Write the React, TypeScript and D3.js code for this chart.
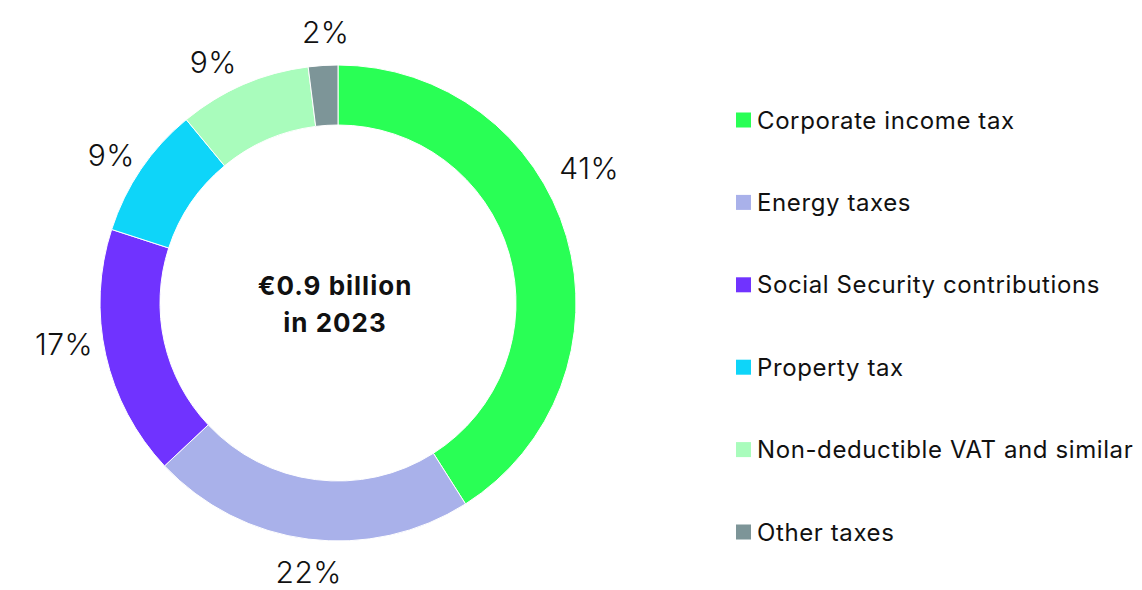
import React from "react";
import * as d3 from "d3";

const categories = [
  "Corporate income tax",
  "Energy taxes",
  "Social Security contributions",
  "Property tax",
  "Non-deductible VAT and similar",
  "Other taxes",
];
const values = [41, 22, 17, 9, 9, 2];
const colors = ["#29FF55", "#A9B1EA", "#7033FF", "#0ED5F9", "#A9FCBC", "#7D9598"];
const centerLines = ["€0.9 billion", "in 2023"];

const W = 1142;
const H = 590;
const cx = 338;
const cy = 303;
const outerR = 238;
const innerR = 178;
const labelR = 271;
// angle / radius nudges for label placement, mirroring the reference's layout
const labelNudge = [-12, -1, 4, -1, -4, 1];
const labelRadiusNudge = [14, 0, 6, 0, 0, 0];

export default function App() {
  const pie = d3.pie<number>().sort(null).value((d) => d)(values);
  const arc = d3.arc<d3.PieArcDatum<number>>().innerRadius(innerR).outerRadius(outerR);
  const font = "Inter, 'Noto Sans', sans-serif";
  const legendY = d3.scalePoint<string>().domain(categories).range([120, 532]);
  return (
    <div style={{ position: "absolute", left: 0, top: 0 }}>
      <svg width={W} height={H} style={{ display: "block", background: "#fff" }}>
        <g transform={`translate(${cx},${cy})`}>
          {pie.map((p, i) => (
            <path key={i} d={arc(p) || ""} fill={colors[i]} stroke="#fff" strokeWidth={1} />
          ))}
          {pie.map((p, i) => {
            const a = (p.startAngle + p.endAngle) / 2 + (labelNudge[i] * Math.PI) / 180;
            const r = labelR + labelRadiusNudge[i];
            const x = r * Math.sin(a);
            const y = -r * Math.cos(a);
            return (
              <text
                key={i}
                x={x}
                y={y}
                textAnchor="middle"
                dominantBaseline="central"
                fontFamily={font}
                fontWeight={300}
                fontSize={30}
                letterSpacing={0.5}
                fill="#111"
              >
                {values[i]}%
              </text>
            );
          })}
          {centerLines.map((t, i) => (
            <text
              key={i}
              x={-3}
              y={-18 + i * 37}
              textAnchor="middle"
              dominantBaseline="central"
              fontFamily={font}
              fontWeight={700}
              fontSize={26}
              letterSpacing={1}
              fill="#111"
            >
              {t}
            </text>
          ))}
        </g>
        {categories.map((c, i) => {
          const y = legendY(c) || 0;
          return (
            <g key={c}>
              <rect x={736} y={y - 7.5} width={15} height={15} fill={colors[i]} />
              <text
                x={757}
                y={y}
                dominantBaseline="central"
                fontFamily={font}
                fontWeight={400}
                fontSize={24}
                letterSpacing={0.6}
                fill="#111"
              >
                {c}
              </text>
            </g>
          );
        })}
      </svg>
    </div>
  );
}
